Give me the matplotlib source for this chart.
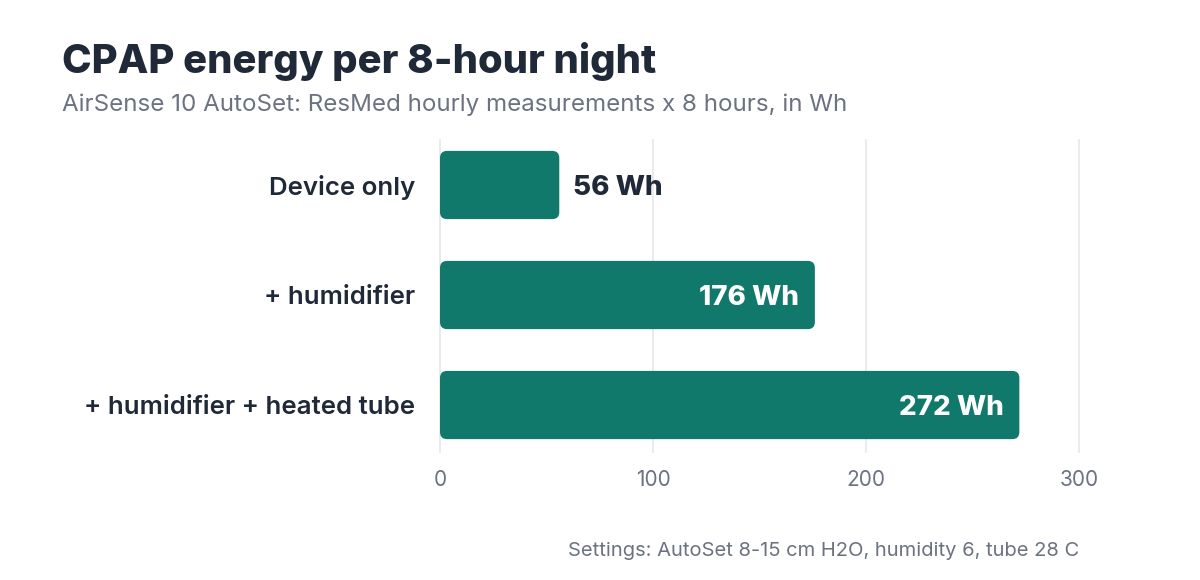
import matplotlib
matplotlib.use("Agg")
import matplotlib.pyplot as plt
from matplotlib.patches import FancyBboxPatch

plt.rcParams['font.family'] = ['Inter', 'DejaVu Sans']

# data
categories = ["Device only", "+ humidifier", "+ humidifier + heated tube"]
energy_wh = [56, 176, 272]
xticks = [0, 100, 200, 300]

teal = "#11786c"
dark = "#1f2937"
grey = "#6b7280"

fig = plt.figure(figsize=(12, 5.8), dpi=100)
ax = fig.add_axes([440 / 1200, 1 - 452 / 580, 639 / 1200, 312 / 580])

ypos = list(range(len(categories)))
bars = ax.barh(ypos, energy_wh, height=0.62, color=teal)
ax.set_xlim(0, 300)
ax.set_ylim(2.427, -0.409)

# swap plain bars for rounded ones
rx = 3.3
ry = 0.064
for b in bars:
    x, y = b.get_x(), b.get_y()
    w, h = b.get_width(), b.get_height()
    b.set_visible(False)
    p = FancyBboxPatch((x, y), w, h,
                       boxstyle="round,pad=0,rounding_size=%f" % rx,
                       mutation_aspect=ry / rx,
                       facecolor=teal, edgecolor="none", zorder=3)
    ax.add_patch(p)

for i, v in enumerate(energy_wh):
    label = "%d Wh" % v
    if v < 100:
        ax.text(v + 6.5, i, label, ha="left", va="center_baseline", fontsize=20,
                fontweight="heavy", color=dark, zorder=4)
    else:
        ax.text(v - 7.5, i, label, ha="right", va="center_baseline", fontsize=20,
                fontweight="heavy", color="white", zorder=4)

ax.set_yticks(ypos)
ax.set_yticklabels(categories, fontsize=18.6, fontweight="semibold", color=dark)
ax.set_xticks(xticks)
ax.set_xticklabels([str(t) for t in xticks], fontsize=15, color=grey)
ax.tick_params(axis="both", length=0)
ax.tick_params(axis="y", pad=18)
ax.tick_params(axis="x", pad=13)

ax.grid(axis="x", color="#e5e7eb", linewidth=1.2, zorder=0)
ax.set_axisbelow(True)
for g in ax.get_xgridlines():
    g.set_clip_on(False)
for s in ax.spines.values():
    s.set_visible(False)

fig.text(62 / 1200, 1 - 73 / 580, "CPAP energy per 8-hour night",
         fontsize=28.75, fontweight="heavy", color=dark, ha="left", va="baseline")
fig.text(62 / 1200, 1 - 111 / 580,
         "AirSense 10 AutoSet: ResMed hourly measurements x 8 hours, in Wh",
         fontsize=17.4, color=grey, ha="left", va="baseline")
fig.text(1079 / 1200, 1 - 556 / 580,
         "Settings: AutoSet 8-15 cm H2O, humidity 6, tube 28 C",
         fontsize=14.5, color=grey, ha="right", va="baseline")

fig.savefig("out.png", dpi=100, facecolor="white")
